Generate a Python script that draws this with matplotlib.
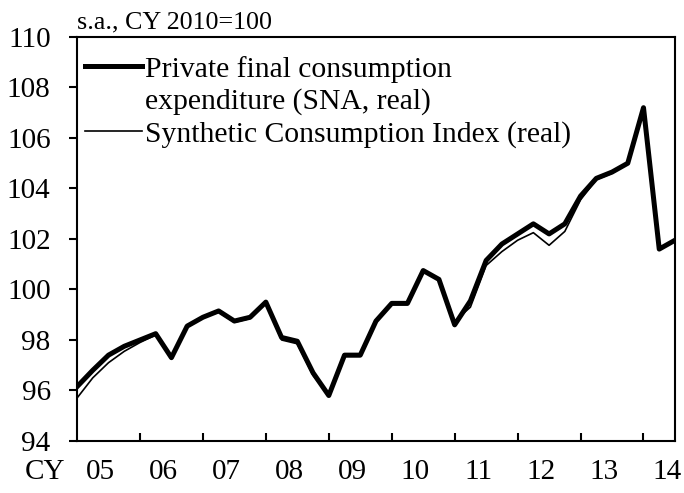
import numpy as np
import matplotlib
matplotlib.use('Agg')
import matplotlib.pyplot as plt
from matplotlib.lines import Line2D
import matplotlib.transforms as mtransforms

plt.rcParams['font.family'] = ['Liberation Serif', 'DejaVu Serif']

# quarterly, 2005Q1 - 2014Q3
sna = [96.15, 96.8, 97.4, 97.75, 98.0, 98.25, 97.3, 98.55, 98.9, 99.15,
       98.75, 98.9, 99.5, 98.1, 97.95, 96.7, 95.8, 97.4, 97.4, 98.75,
       99.45, 99.45, 100.75, 100.4, 98.6, 99.55, 101.15, 101.8, 102.2, 102.6,
       102.2, 102.6, 103.7, 104.4, 104.65, 105.0, 107.2, 101.6, 101.95]
sci = [95.7, 96.5, 97.1, 97.55, 97.9, 98.2, 97.3, 98.5, 98.9, 99.1,
       98.7, 98.85, 99.45, 98.0, 97.85, 96.6, 95.8, 97.35, 97.35, 98.7,
       99.4, 99.4, 100.7, 100.4, 98.75, 99.3, 100.95, 101.5, 101.95, 102.25,
       101.75, 102.3, 103.55, 104.35, 104.6, 105.0, 107.2, 101.6, 101.95]
years = ["05", "06", "07", "08", "09", "10", "11", "12", "13", "14"]

x = np.arange(len(sna))

fig = plt.figure(figsize=(6.84, 4.93), dpi=100)
ax = fig.add_axes([0.1126, 0.1055, 0.8742, 0.8195])

ax.plot(x, sci, color='black', lw=1.2, zorder=2)
ax.plot(x, sna, color='black', lw=3.6, zorder=3)

ax.set_xlim(0, len(sna) - 1)
ax.set_ylim(94, 110)
ax.set_yticks(np.arange(94, 111, 2))
ax.tick_params(axis='y', direction='out', length=6, width=1.5, pad=13, labelsize=21)

ax.set_xticks(np.arange(4, len(sna) - 1, 4))
ax.set_xticklabels([])
ax.tick_params(axis='x', which='major', direction='in', length=6, width=1.5)
ax.set_xticks([4 * k + 1.5 for k in range(len(years))], minor=True)
ax.set_xticklabels(years, minor=True)
ax.tick_params(axis='x', which='minor', length=0, pad=13, labelsize=21)

for s in ax.spines.values():
    s.set_linewidth(1.5)

trans = mtransforms.blended_transform_factory(ax.transData, ax.transAxes)
ax.text(-2.06, -0.077, "CY", transform=trans, ha='center', va='center', fontsize=21)
ax.text(0, 1.022, "s.a., CY 2010=100", transform=ax.transAxes,
        ha='left', va='baseline', fontsize=18.7)

handles = [Line2D([], [], color='black', lw=3.6),
           Line2D([], [], color='none'),
           Line2D([], [], color='black', lw=1.2)]
labels = ["Private final consumption", "expenditure (SNA, real)",
          "Synthetic Consumption Index (real)"]
ax.legend(handles, labels, loc='upper left', bbox_to_anchor=(0.0, 0.973),
          frameon=False, fontsize=21.3, handlelength=1.93, handletextpad=0.1,
          labelspacing=0.19, borderaxespad=0.27, borderpad=0.0)

fig.savefig('out.png', dpi=100)
